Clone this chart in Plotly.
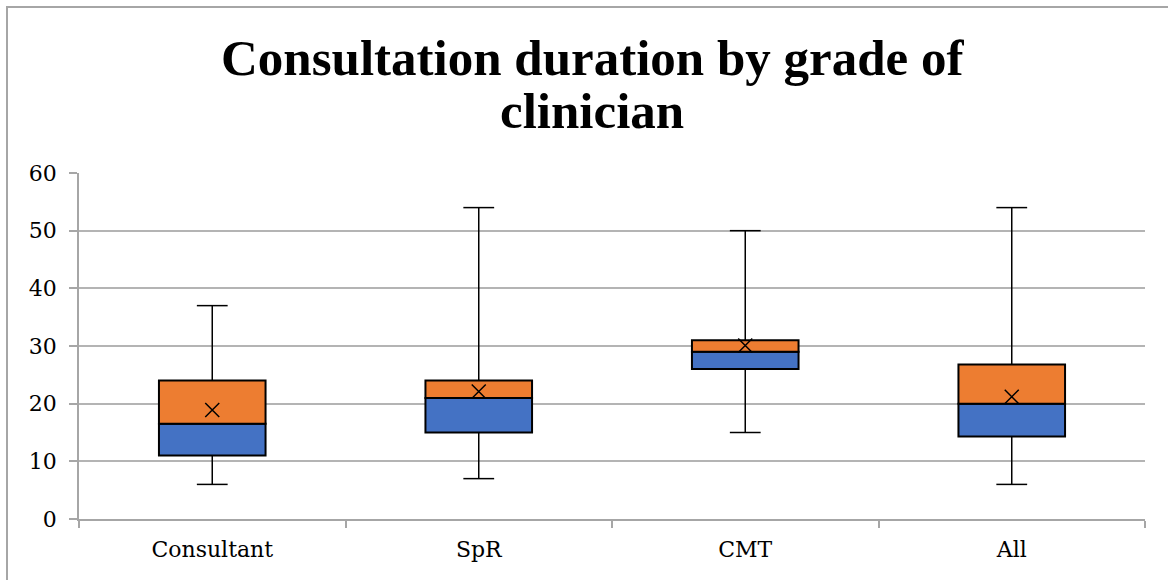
import plotly.graph_objects as go

categories = ["Consultant", "SpR", "CMT", "All"]
minimum = [6, 7, 15, 6]
q1 = [11, 15, 26, 14.3]
median = [16.5, 21, 29, 20]
q3 = [24, 24, 31, 26.8]
maximum = [37, 54, 50, 54]
mean = [18.9, 22.1, 30.1, 21.2]

title_lines = ["Consultation duration by grade of", "clinician"]
y_ticks = [0, 10, 20, 30, 40, 50, 60]

lower = [m - a for m, a in zip(median, q1)]
upper = [b - m for b, m in zip(q3, median)]

fig = go.Figure()

fig.add_trace(go.Bar(x=categories, y=lower, base=q1, width=0.4,
                     marker=dict(color="#4472C4", line=dict(color="black", width=2)),
                     showlegend=False, hoverinfo="skip"))
fig.add_trace(go.Bar(x=categories, y=upper, base=median, width=0.4,
                     marker=dict(color="#ED7D31", line=dict(color="black", width=2)),
                     showlegend=False, hoverinfo="skip"))

wx, wy = [], []
for c, lo, a, b, hi in zip(categories, minimum, q1, q3, maximum):
    wx += [c, c, None, c, c, None]
    wy += [lo, a, None, b, hi, None]
fig.add_trace(go.Scatter(x=wx, y=wy, mode="lines", line=dict(color="black", width=1.5),
                         showlegend=False, hoverinfo="skip"))
fig.add_trace(go.Scatter(x=categories + categories, y=minimum + maximum, mode="markers",
                         marker=dict(symbol="line-ew", size=22, line=dict(color="black", width=1.5)),
                         showlegend=False, hoverinfo="skip"))
fig.add_trace(go.Scatter(x=categories, y=mean, mode="markers",
                         marker=dict(symbol="x-thin", size=14, line=dict(color="black", width=1.5)),
                         showlegend=False, hoverinfo="skip"))

PLOT_L, PLOT_W = 79, 1066
PLOT_T, PLOT_H = 173, 346
annotations = []
for line, cy in zip(title_lines, [58, 111]):
    annotations.append(dict(text="<b>" + line + "</b>", xref="paper", yref="paper",
                            x=(592 - PLOT_L) / PLOT_W, y=(PLOT_T + PLOT_H - cy) / PLOT_H,
                            xanchor="center", yanchor="middle", showarrow=False,
                            font=dict(family="Liberation Serif", size=51, color="black")))

fig.update_layout(
    width=1168, height=580,
    margin=dict(l=79, r=23, t=173, b=61),
    paper_bgcolor="white", plot_bgcolor="white",
    barmode="overlay",
    annotations=annotations,
    font=dict(family="DejaVu Serif", size=22, color="black"),
    xaxis=dict(type="category", tickson="boundaries", ticks="outside", ticklen=7,
               tickcolor="#a6a6a6", tickwidth=1.5, showline=True, linecolor="#a6a6a6",
               linewidth=1.5, showgrid=False, range=[-0.5, 3.5], ticklabelstandoff=10,
               tickfont=dict(family="DejaVu Serif", size=22, color="black")),
    yaxis=dict(range=[0, 60], tickvals=y_ticks, ticks="outside", ticklen=8,
               tickcolor="#a6a6a6", tickwidth=1.5, showline=True, linecolor="#a6a6a6",
               linewidth=1.5, showgrid=True, gridcolor="#b4b4b4", gridwidth=1.5,
               zeroline=False, ticklabelstandoff=8,
               tickfont=dict(family="DejaVu Serif", size=22, color="black")),
    shapes=[dict(type="rect", xref="paper", yref="paper",
                 x0=(7 - PLOT_L) / PLOT_W, x1=(1200 - PLOT_L) / PLOT_W,
                 y0=(519 - 600) / PLOT_H, y1=(519 - 7) / PLOT_H,
                 line=dict(color="#a6a6a6", width=2), fillcolor="rgba(0,0,0,0)", layer="below")],
)

fig.write_html("out.html")
